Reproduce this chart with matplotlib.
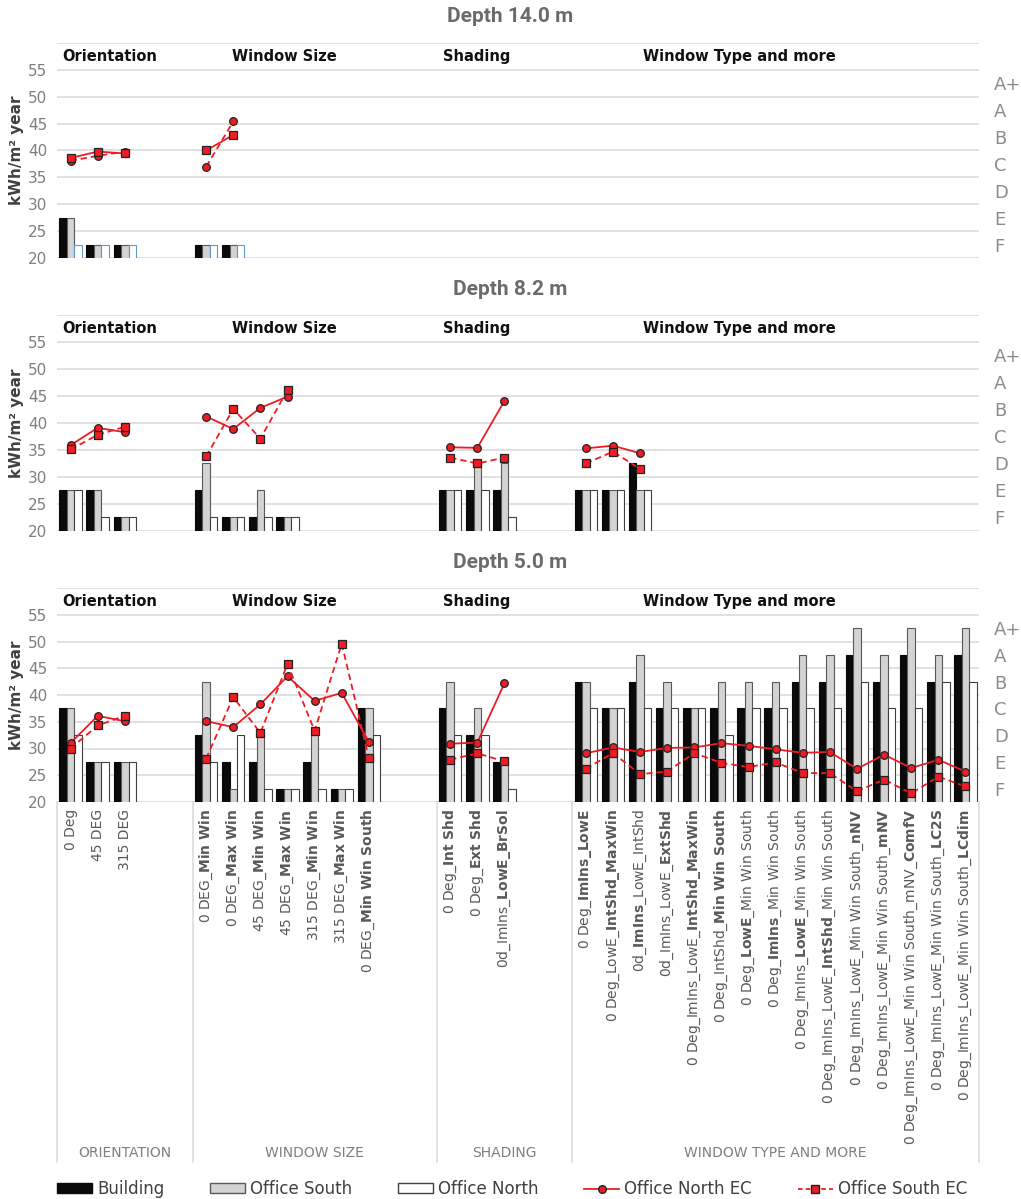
import numpy as np
import matplotlib
matplotlib.use("Agg")
import matplotlib.pyplot as plt
import matplotlib.transforms as mtransforms
from matplotlib.patches import Patch
from matplotlib.lines import Line2D

plt.rcParams['font.family'] = ['DejaVu Sans']
plt.rcParams['mathtext.fontset'] = 'dejavusans'

nan = np.nan

# ---------------------------------------------------------------- categories
group_titles = ["Orientation", "Window Size", "Shading", "Window Type and more"]
group_axis_names = ["ORIENTATION", "WINDOW SIZE", "SHADING", "WINDOW TYPE AND MORE"]
group_slots = [5, 9, 5, 15]          # category slots per group (incl. empty ones)

orientation_labels = ["0 Deg", "45 DEG", "315 DEG"]
window_size_labels = ["0 DEG_**Min Win**", "0 DEG_**Max Win**", "45 DEG_**Min Win**",
                      "45 DEG_**Max Win**", "315 DEG_**Min Win**", "315 DEG_**Max Win**",
                      "0 DEG_**Min Win South**"]
shading_labels = ["0 Deg_**Int Shd**", "0 Deg_**Ext Shd**", "0d_ImIns_**LowE_BrSol**"]
window_type_labels = [
    "0 Deg_**ImIns_LowE**",
    "0 Deg_LowE_**IntShd_MaxWin**",
    "0d_**ImIns**_LowE_IntShd",
    "0d_ImIns_LowE_**ExtShd**",
    "0 Deg_ImIns_LowE_**IntShd_MaxWin**",
    "0 Deg_IntShd_**Min Win South**",
    "0 Deg_**LowE**_Min Win South",
    "0 Deg_**ImIns**_Min Win South",
    "0 Deg_ImIns_**LowE**_Min Win South",
    "0 Deg_ImIns_LowE_**IntShd**_Min Win South",
    "0 Deg_ImIns_LowE_Min Win South_**nNV**",
    "0 Deg_ImIns_LowE_Min Win South_**mNV**",
    "0 Deg_ImIns_LowE_Min Win South_mNV_**ComfV**",
    "0 Deg_ImIns_LowE_Min Win South_**LC2S**",
    "0 Deg_ImIns_LowE_Min Win South_**LCdim**",
]

grade_labels = ["A+", "A", "B", "C", "D", "E", "F"]
grade_centers = [52.5, 47.5, 42.5, 37.5, 32.5, 27.5, 22.5]

# ---------------------------------------------------------------- Depth 14.0 m
building_14 = [[27.5, 22.5, 22.5], [22.5, 22.5], [], []]
south_14 = [[27.5, 22.5, 22.5], [22.5, 22.5], [], []]
north_14 = [[22.5, 22.5, 22.5], [22.5, 22.5], [], []]
north_ec_14 = [[38.1, 39.0, 39.8], [37.0, 45.4], [], []]
south_ec_14 = [[38.6, 39.8, 39.45], [40.0, 42.9], [], []]

# ---------------------------------------------------------------- Depth 8.2 m
building_82 = [[27.5, 27.5, 22.5], [27.5, 22.5, 22.5, 22.5], [27.5, 27.5, 27.5], [27.5, 27.5, 32.5]]
south_82 = [[27.5, 27.5, 22.5], [32.5, 22.5, 27.5, 22.5], [27.5, 32.5, 32.5], [27.5, 27.5, 27.5]]
north_82 = [[27.5, 22.5, 22.5], [22.5, 22.5, 22.5, 22.5], [27.5, 27.5, 22.5], [27.5, 27.5, 27.5]]
north_ec_82 = [[35.9, 39.1, 38.3], [41.2, 38.9, 42.8, 44.9], [35.5, 35.4, 44.1], [35.3, 35.8, 34.4]]
south_ec_82 = [[35.1, 37.8, 39.3], [33.8, 42.6, 37.1, 46.1], [33.6, 32.5, 33.6], [32.5, 34.7, 31.5]]

# ---------------------------------------------------------------- Depth 5.0 m
building_50 = [[37.5, 27.5, 27.5],
               [32.5, 27.5, 27.5, 22.5, 27.5, 22.5, 37.5],
               [37.5, 32.5, 27.5],
               [42.5, 37.5, 42.5, 37.5, 37.5, 37.5, 37.5, 37.5, 42.5, 42.5, 47.5, 42.5, 47.5, 42.5, 47.5]]
south_50 = [[37.5, 27.5, 27.5],
            [42.5, 22.5, 32.5, 22.5, 32.5, 22.5, 37.5],
            [42.5, 37.5, 27.5],
            [42.5, 37.5, 47.5, 42.5, 37.5, 42.5, 42.5, 42.5, 47.5, 47.5, 52.5, 47.5, 52.5, 47.5, 52.5]]
north_50 = [[32.5, 27.5, 27.5],
            [27.5, 32.5, 22.5, 22.5, 22.5, 22.5, 32.5],
            [32.5, 32.5, 22.5],
            [37.5, 37.5, 37.5, 37.5, 37.5, 32.5, 37.5, 37.5, 37.5, 37.5, 42.5, 37.5, 37.5, 42.5, 42.5]]
north_ec_50 = [[31.0, 36.1, 35.1],
               [35.1, 34.0, 38.25, 43.5, 38.9, 40.4, 31.2],
               [30.9, 31.1, 42.2],
               [29.1, 30.2, 29.35, 30.1, 30.2, 31.0, 30.5, 29.85, 29.2, 29.35, 26.2, 28.85, 26.35, 27.9, 25.7]]
south_ec_50 = [[30.0, 34.3, 36.1],
               [28.1, 39.6, 32.9, 45.8, 33.3, 49.6, 28.2],
               [27.9, 29.1, 27.6],
               [26.2, 29.15, 25.2, 25.7, 29.15, 27.3, 26.55, 27.4, 25.4, 25.4, 22.0, 24.2, 21.6, 24.75, 22.9]]


def spread(per_group, fill=nan):
    """Lay the per-group values out on the shared category axis."""
    out = []
    for vals, n in zip(per_group, group_slots):
        out += list(vals) + [fill] * (n - len(vals))
    return out


def to_mathtext(label):
    """Turn '**bold**' segments into mathtext bold."""
    parts = label.split("**")
    out = ""
    for i, p in enumerate(parts):
        if i % 2 == 1 and p:
            p = p.replace("_", r"\_").replace(" ", r"\ ")
            out += r"$\mathbf{" + p + "}$"
        else:
            out += p
    return out


tick_labels = spread([orientation_labels, window_size_labels, shading_labels, window_type_labels], "")
tick_labels = [to_mathtext(t) for t in tick_labels]
n_cat = sum(group_slots)
x = np.arange(n_cat)
bounds = np.cumsum([0] + group_slots) - 0.5

# ---------------------------------------------------------------- styling
RED = "#ee1c24"
GRID = "#d9d9d9"
TICK = "#7f7f7f"
bar_w = 0.275

W, H = 1021, 1199
fig = plt.figure(figsize=(W / 100, H / 100), dpi=100)

panels = [
    dict(title="Depth 14.0 m", title_y=17, top=43, bottom=258,
         data=(building_14, south_14, north_14, north_ec_14, south_ec_14),
         north_edge="#5b9bd5", north_ls="--", south_ls="-", xlabels=False),
    dict(title="Depth 8.2 m", title_y=289, top=315, bottom=531,
         data=(building_82, south_82, north_82, north_ec_82, south_ec_82),
         north_edge="#404040", north_ls="-", south_ls="--", xlabels=False),
    dict(title="Depth 5.0 m", title_y=562, top=588, bottom=802,
         data=(building_50, south_50, north_50, north_ec_50, south_ec_50),
         north_edge="#404040", north_ls="-", south_ls="--", xlabels=True),
]

left_px, right_px = 57, 979
title_x = [62, 232, 443, 643]
DASH = (3.5, 2.2)


def line_style(ls):
    return dict(ls="--", dashes=DASH) if ls == "--" else dict(ls="-")


for p in panels:
    ax = fig.add_axes([left_px / W, 1 - p["bottom"] / H,
                       (right_px - left_px) / W, (p["bottom"] - p["top"]) / H])
    building, south, north, north_ec, south_ec = [spread(d) for d in p["data"]]

    ax.bar(x - bar_w, building, width=bar_w, color="#0a0a0a", edgecolor="#0a0a0a",
           linewidth=0.8, zorder=2)
    ax.bar(x, south, width=bar_w, color="#d3d3d3", edgecolor="#595959",
           linewidth=0.8, zorder=2)
    ax.bar(x + bar_w, north, width=bar_w, color="white", edgecolor=p["north_edge"],
           linewidth=0.8, zorder=2)

    ax.plot(x, north_ec, color=RED, lw=1.3, marker="o", ms=5.5,
            mfc=RED, mec="#222222", mew=0.9, zorder=4, **line_style(p["north_ls"]))
    ax.plot(x, south_ec, color=RED, lw=1.3, marker="s", ms=5.2,
            mfc=RED, mec="#222222", mew=0.9, zorder=4, **line_style(p["south_ls"]))

    ax.set_xlim(-0.5, n_cat - 0.5)
    ax.set_ylim(20, 60)
    ax.set_yticks(np.arange(20, 61, 5))
    ax.set_yticklabels([str(v) for v in range(20, 56, 5)] + [""])
    ax.tick_params(axis="y", length=0, pad=7, labelsize=11, labelcolor=TICK)
    ax.grid(axis="y", color=GRID, lw=1.1, zorder=0)
    ax.set_axisbelow(True)
    for s in ax.spines.values():
        s.set_visible(False)

    ax.set_ylabel("kWh/m² year", fontsize=11, fontweight="bold", color="#404040")
    ax.yaxis.set_label_coords(-0.036, 0.5)

    trans = mtransforms.blended_transform_factory(ax.transAxes, ax.transData)
    for gx, gt in zip(title_x, group_titles):
        ax.text((gx - left_px) / (right_px - left_px), 57.5, gt, transform=trans,
                ha="left", va="center", fontsize=10.5, fontweight="bold", color="#111111")

    # energy-class scale on the right
    ax2 = ax.twinx()
    ax2.set_ylim(20, 60)
    ax2.set_yticks(grade_centers)
    ax2.set_yticklabels(grade_labels)
    ax2.tick_params(axis="y", length=0, pad=11, labelsize=13, labelcolor="#8c8c8c")
    for s in ax2.spines.values():
        s.set_visible(False)

    fig.text(0.5, 1 - p["title_y"] / H, p["title"], ha="center", va="center",
             fontsize=15, fontweight="bold", color="#6b6b6b", family="Roboto")

    if p["xlabels"]:
        ax.set_xticks(x)
        ax.set_xticklabels(tick_labels, rotation=90, fontsize=10, color="#595959")
        ax.tick_params(axis="x", length=0, pad=5)
        tx = mtransforms.blended_transform_factory(ax.transData, ax.transAxes)
        depth = (1162 - 802) / (p["bottom"] - p["top"])
        for b in bounds:
            ax.plot([b, b], [0, -depth], transform=tx, clip_on=False, color=GRID, lw=1.1)
        name_y = -(1153 - 802) / (p["bottom"] - p["top"])
        for i, name in enumerate(group_axis_names):
            ax.text((bounds[i] + bounds[i + 1]) / 2, name_y, name, transform=tx,
                    ha="center", va="center", fontsize=10, color="#7f7f7f")
    else:
        ax.set_xticks([])

handles = [
    Patch(facecolor="#0a0a0a", edgecolor="#0a0a0a", label="Building"),
    Patch(facecolor="#d3d3d3", edgecolor="#595959", label="Office South"),
    Patch(facecolor="white", edgecolor="#404040", label="Office North"),
    Line2D([], [], color=RED, lw=1.3, marker="o", ms=5.5, mfc=RED, mec="#222222",
           label="Office North EC"),
    Line2D([], [], color=RED, lw=1.3, ls="--", dashes=(2.5, 1.8), marker="s", ms=5.2,
           mfc=RED, mec="#222222", label="Office South EC"),
]
leg = fig.legend(handles=handles, loc="center", ncol=5, frameon=False,
                 bbox_to_anchor=(512 / W, 1 - 1189 / H), fontsize=12,
                 handlelength=2.1, handleheight=0.55, handletextpad=0.3,
                 columnspacing=2.75)
for t in leg.get_texts():
    t.set_color("#404040")

fig.savefig("out.png", dpi=100)
